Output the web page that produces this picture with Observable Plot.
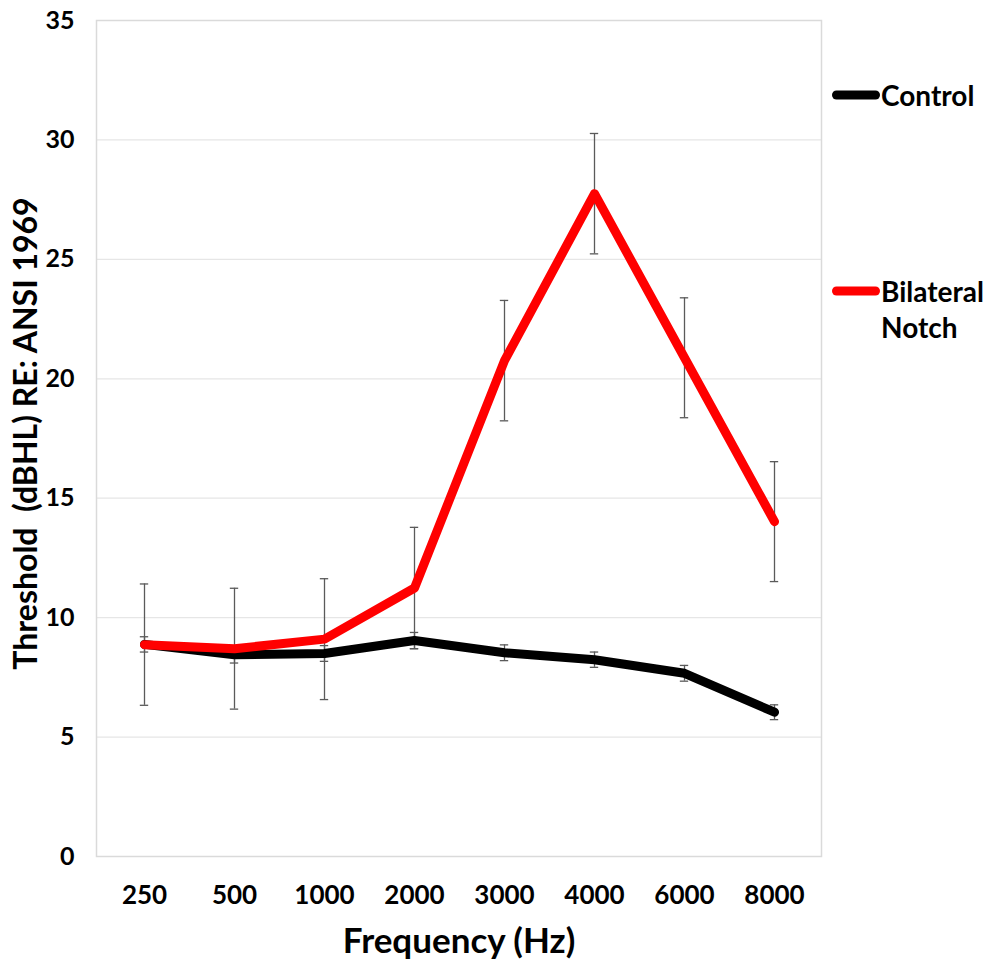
<!DOCTYPE html>
<html><head><meta charset="utf-8">
<script src="https://cdn.jsdelivr.net/npm/d3@7"></script>
<script src="https://cdn.jsdelivr.net/npm/@observablehq/plot@0.6"></script>
<style>
body{margin:0;background:#fff;font-family:Lato, sans-serif;}
#wrap{position:relative;width:991px;height:961px;}
svg text{white-space:pre;}
.leg{position:absolute;display:flex;align-items:flex-start;font-weight:700;font-size:28px;color:#000;line-height:36px;}
.leg svg{flex:none;}
</style></head><body><div id="wrap"></div>
<script>
const frequencies = ["250","500","1000","2000","3000","4000","6000","8000"];
const controlValues = [8.88, 8.45, 8.50, 9.04, 8.53, 8.24, 7.67, 6.04];
const controlErrors = [0.32, 0.35, 0.33, 0.34, 0.33, 0.32, 0.33, 0.31];
const notchValues = [8.87, 8.70, 9.10, 11.24, 20.76, 27.75, 20.88, 14.02];
const notchErrors = [2.54, 2.53, 2.53, 2.54, 2.52, 2.52, 2.51, 2.51];
const seriesNames = ["Control", "Bilateral Notch"];
const seriesColors = ["#000000", "#ff0000"];
const yTicks = [0, 5, 10, 15, 20, 25, 30, 35];
const yLabel = "Threshold  (dBHL) RE: ANSI 1969";
const xLabel = "Frequency (Hz)";

const controlRows = frequencies.map((f, i) => ({freq: f, value: controlValues[i], err: controlErrors[i]}));
const notchRows = frequencies.map((f, i) => ({freq: f, value: notchValues[i], err: notchErrors[i]}));
const allRows = controlRows.concat(notchRows);

const capInset = (725 / frequencies.length - 9) / 2;
const errColor = "#5a5a5a";

const chart = Plot.plot({
  width: 991, height: 961,
  marginLeft: 96, marginRight: 170, marginTop: 20, marginBottom: 105,
  style: {fontFamily: "Lato, sans-serif", background: "#fff", color: "#000"},
  x: {type: "band", domain: frequencies, padding: 0, label: null},
  y: {domain: [0, 35], label: null},
  marks: [
    Plot.gridY(yTicks.slice(1, -1), {stroke: "#e6e6e6", strokeOpacity: 1, strokeWidth: 1.2}),
    Plot.frame({stroke: "#dadada", strokeWidth: 1.5}),
    Plot.axisY(yTicks, {tickSize: 0, tickPadding: 22, fontSize: 25, fontWeight: 700, label: null}),
    Plot.axisX({tickSize: 0, tickPadding: 29, fontSize: 26, fontWeight: 700, label: null}),
    Plot.ruleX(allRows, {x: "freq", y1: d => d.value - d.err, y2: d => d.value + d.err, stroke: errColor, strokeWidth: 1.3}),
    Plot.tickY(allRows, {x: "freq", y: d => d.value + d.err, insetLeft: capInset, insetRight: capInset, stroke: errColor, strokeWidth: 1.3}),
    Plot.tickY(allRows, {x: "freq", y: d => d.value - d.err, insetLeft: capInset, insetRight: capInset, stroke: errColor, strokeWidth: 1.3}),
    Plot.line(controlRows, {x: "freq", y: "value", stroke: seriesColors[0], strokeWidth: 9, strokeLinecap: "round", strokeLinejoin: "round"}),
    Plot.line(notchRows, {x: "freq", y: "value", stroke: seriesColors[1], strokeWidth: 9, strokeLinecap: "round", strokeLinejoin: "round"}),
    Plot.text([yLabel], {text: d => d, frameAnchor: "left", textAnchor: "middle", lineAnchor: "middle", rotate: -90, dx: -70, dy: -5, fontSize: 32, fontWeight: 700, fill: "#000"}),
    Plot.text([xLabel], {text: d => d, frameAnchor: "bottom", textAnchor: "middle", lineAnchor: "middle", dy: 85, fontSize: 35, fontWeight: 700, fill: "#000"})
  ]
});
const wrap = document.getElementById("wrap");
wrap.appendChild(chart);

const legendTops = [77, 273];
seriesNames.forEach((name, i) => {
  const div = document.createElement("div");
  div.className = "leg";
  div.style.left = "828px";
  div.style.top = legendTops[i] + "px";
  const words = name.split(" ");
  div.innerHTML = `<svg width="53" height="36"><line x1="8.5" y1="18" x2="47.5" y2="18" stroke="${seriesColors[i]}" stroke-width="9" stroke-linecap="round"/></svg><span>${words.join("<br>")}</span>`;
  wrap.appendChild(div);
});
</script>
</body></html>
